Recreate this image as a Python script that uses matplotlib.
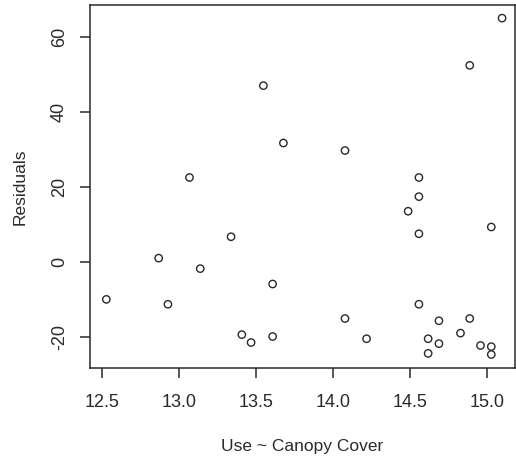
import matplotlib
matplotlib.use('Agg')
import matplotlib.pyplot as plt

# Residuals from the Use ~ Canopy Cover fit
canopy = [12.53, 12.87, 12.93, 13.07, 13.14, 13.34, 13.41, 13.47,
          13.55, 13.61, 13.61, 13.68, 14.08, 14.08, 14.22, 14.49,
          14.56, 14.56, 14.56, 14.56, 14.62, 14.62, 14.69, 14.69,
          14.83, 14.89, 14.89, 14.96, 15.03, 15.03, 15.03, 15.10]
resid = [-10.0, 1.0, -11.3, 22.5, -1.8, 6.7, -19.4, -21.5,
         47.0, -5.9, -19.9, 31.7, 29.7, -15.1, -20.5, 13.5,
         22.5, 17.4, 7.5, -11.3, -20.5, -24.4, -15.7, -21.8,
         -19.0, 52.4, -15.1, -22.3, 9.3, -22.6, -24.7, 65.0]

xticks = [12.5, 13.0, 13.5, 14.0, 14.5, 15.0]
yticks = [-20, 0, 20, 40, 60]

plt.rcParams['font.family'] = ['Liberation Sans', 'DejaVu Sans']
ink = '#2a2a2a'

fig = plt.figure(figsize=(5.16, 4.61), dpi=100)
ax = fig.add_axes([90 / 516, 93 / 461, 425 / 516, 363 / 461])

ax.scatter(canopy, resid, s=28, facecolors='none', edgecolors=ink,
           linewidths=1.0, zorder=3)

ax.set_xlim(12.424, 15.184)
ax.set_ylim(-28.3, 68.5)
ax.set_xticks(xticks)
ax.set_xticklabels(['%.1f' % t for t in xticks])
ax.set_yticks(yticks)
ax.set_yticklabels([str(t) for t in yticks], rotation=90, va='center')

for s in ax.spines.values():
    s.set_color(ink)
    s.set_linewidth(1.1)
ax.tick_params(axis='both', length=7, width=1.1, color=ink,
               labelsize=13, labelcolor=ink)
ax.tick_params(axis='x', pad=12)
ax.tick_params(axis='y', pad=9)

ax.set_xlabel('Use ~ Canopy Cover', fontsize=12.5, color=ink, labelpad=20)
ax.set_ylabel('Residuals', fontsize=12.5, color=ink, labelpad=17)

fig.savefig('out.png', dpi=100)
